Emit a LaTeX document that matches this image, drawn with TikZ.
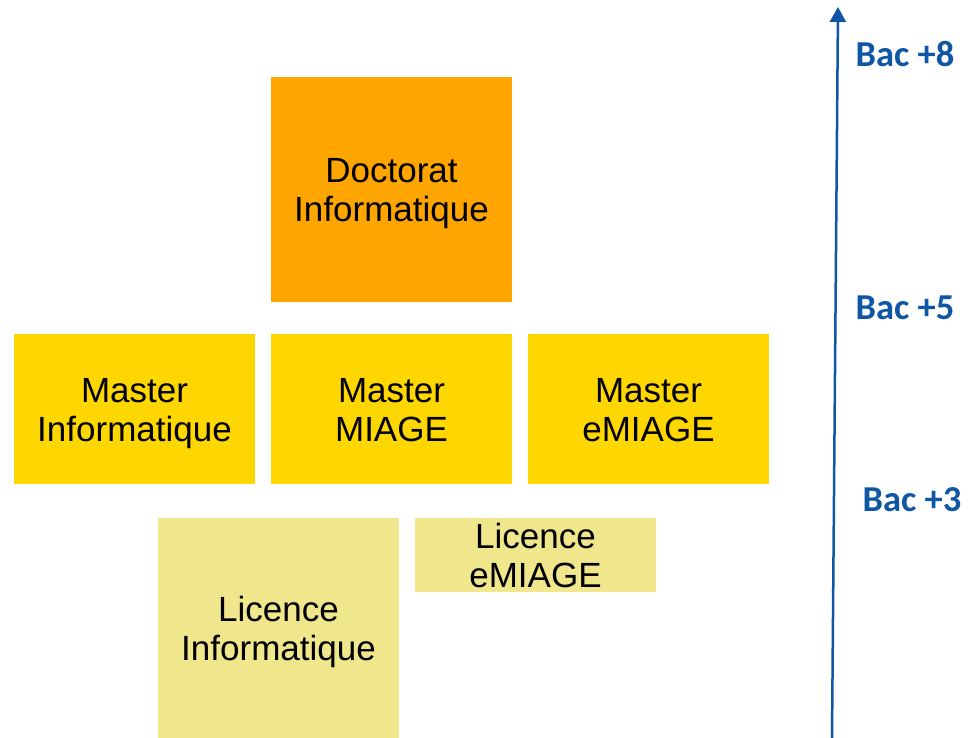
\documentclass[tikz,border=0pt]{standalone}
\usepackage{fontspec}
\setmainfont{Liberation Sans}
\newfontfamily\calib{Carlito}
\usetikzlibrary{arrows.meta}
\definecolor{doccol}{HTML}{FFA500}
\definecolor{mastcol}{HTML}{FFD700}
\definecolor{liccol}{HTML}{F0E68C}
\definecolor{bacblue}{HTML}{0F57A4}
\newcommand\twolines[2]{\rule{0pt}{33pt}#1\\#2\rule[-8pt]{0pt}{8pt}}
\newcommand\twolinesflat[2]{\rule{0pt}{30pt}#1\\#2\rule[-5pt]{0pt}{5pt}}
\tikzset{
  box/.style={inner sep=0pt, align=center, font=\fontsize{35}{39}\selectfont, text=black},
  doc/.style={box, fill=doccol},
  mast/.style={box, fill=mastcol, minimum width=241pt, minimum height=150pt},
  lic/.style={box, fill=liccol},
  bac/.style={font=\calib\bfseries\fontsize{36.5}{40}\selectfont, text=bacblue, inner sep=0pt},
  levelarrow/.style={draw=bacblue, line width=2.5pt, -{Triangle[width=16pt,length=15pt]}}
}
\begin{document}
\begin{tikzpicture}[x=1pt,y=-1pt]
\useasboundingbox (0,0) rectangle (974,738);
\node[doc, minimum width=241pt, minimum height=225pt] (doct) at (391.5,189.5) {\twolines{Doctorat}{Informatique}};
\node[mast] (minfo) at (134.5,409) {\twolines{Master}{Informatique}};
\node[mast] (mmiage) at (391.5,409) {\twolines{Master}{MIAGE}};
\node[mast] (memiage) at (648.5,409) {\twolines{Master}{eMIAGE}};
\node[lic, minimum width=241pt, minimum height=220pt] (linfo) at (278.5,628) {\twolines{Licence}{Informatique}};
\node[lic, minimum width=241pt, minimum height=74pt] (lemiage) at (535.5,555) {\twolinesflat{Licence}{eMIAGE}};
\coordinate (abot) at (832,738);
\coordinate (atop) at (838,7);
\draw[levelarrow] (abot) -- (atop);
\node[bac] (b8) at (905,54) {Bac +8};
\node[bac] (b5) at (905,308) {Bac +5};
\node[bac] (b3) at (912,500) {Bac +3};
\end{tikzpicture}
\end{document}
